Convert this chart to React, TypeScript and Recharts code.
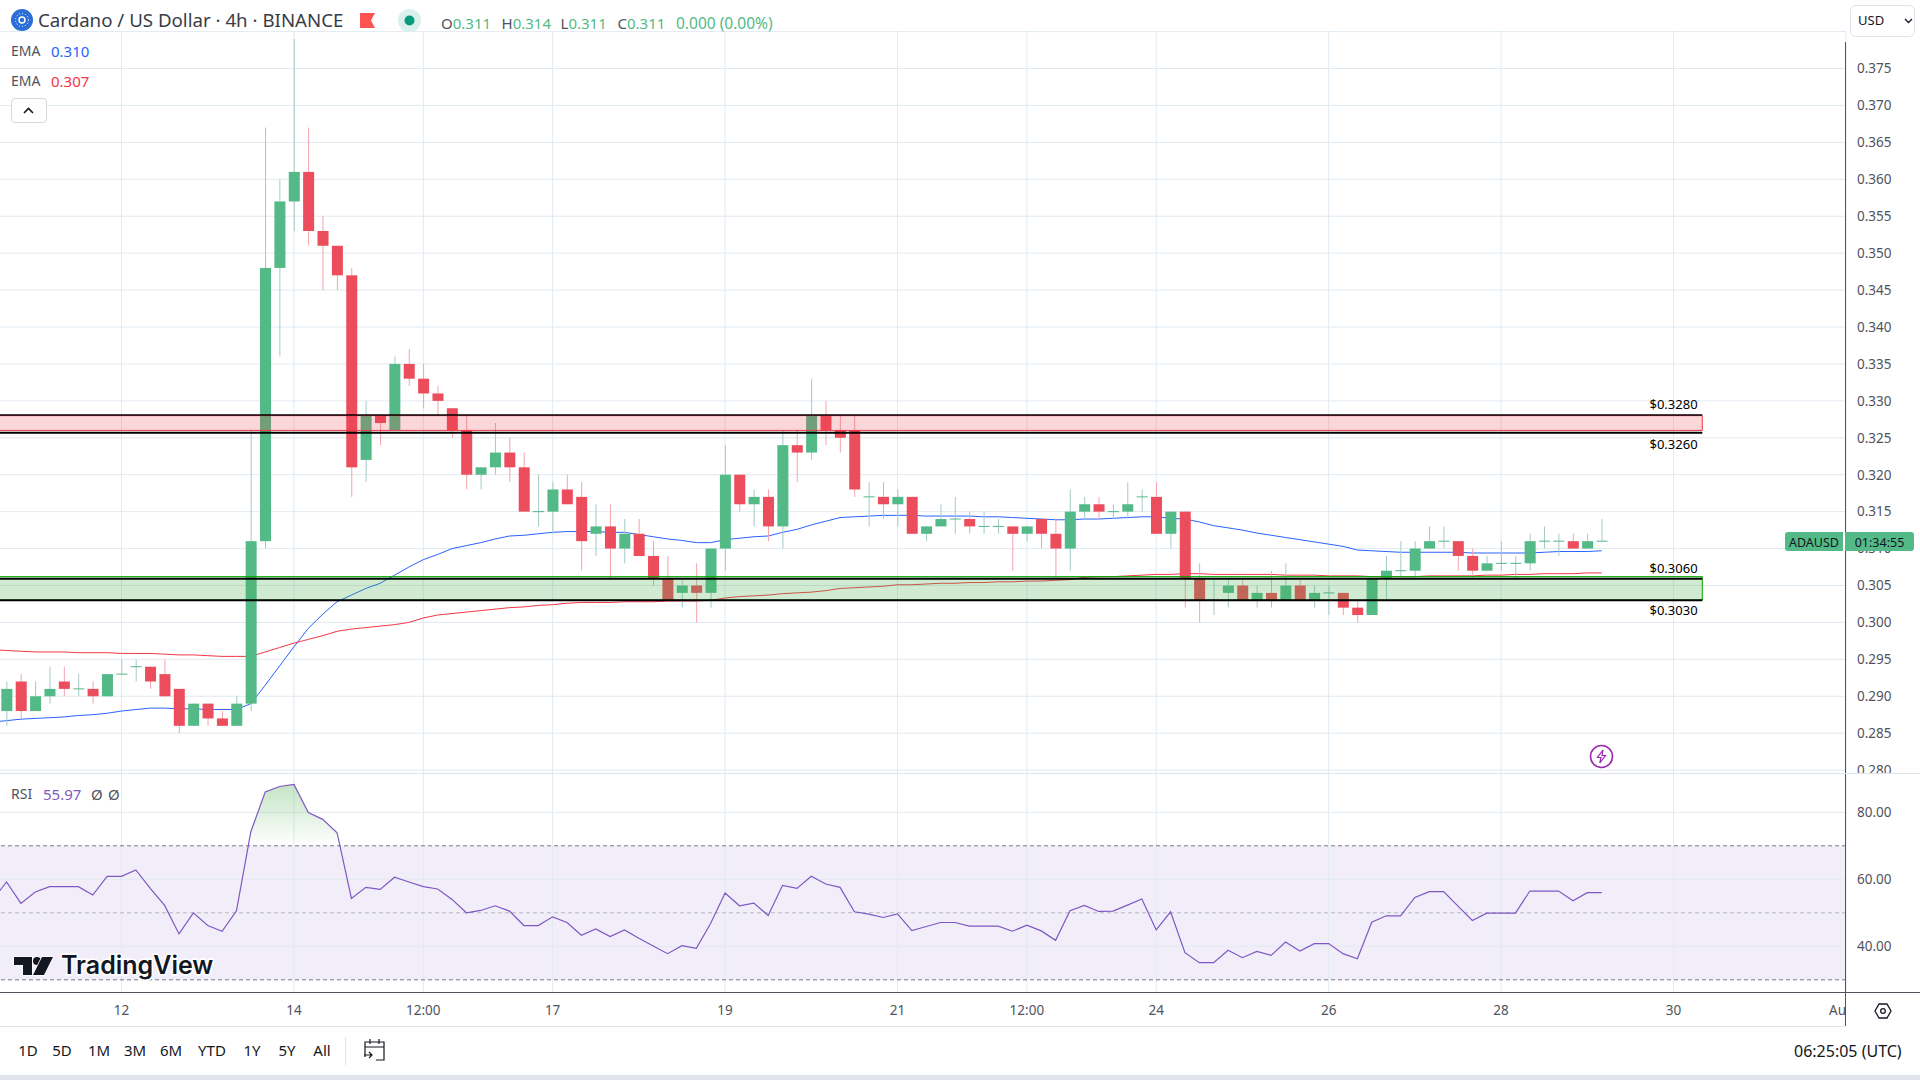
import React from "react";
import { ComposedChart, Bar, Line, Area, XAxis, YAxis, CartesianGrid, ReferenceArea, ReferenceLine, ReferenceDot } from "recharts";

const FONT = "'Noto Sans', sans-serif";
const UP = "#53b987";
const DOWN = "#eb4d5c";
const GRID = "#e0eaf2";
const TEXT = "#50535e";

// first bar sits just off the left edge, it only gives the lines somewhere to come from
const FIRST_BAR = -9;
const opens = [
  .289,
  .288,.292,.288,.290,.292,.291,.291,.290,.293,.294,.294,.293,.291,.286,.289,.287,.286,.289,.311,.348,.357,.361,.353,.351,
  .347,.322,.328,.326,.335,.333,.331,.329,.326,.320,.321,.323,.321,.315,.315,.318,.317,.312,.313,.310,.312,.309,.306,.304,
  .305,.304,.310,.320,.316,.317,.313,.324,.323,.328,.326,.326,.317,.317,.316,.317,.312,.313,.314,.314,.313,.313,.313,.312,
  .314,.312,.310,.315,.316,.315,.315,.317,.317,.312,.315,.306,.303,.304,.305,.303,.304,.303,.305,.303,.304,.304,.302,.301,
  .306,.307,.307,.310,.311,.311,.309,.307,.308,.308,.308,.311,.311,.311,.310,.311,
];
const highs = [
  .291,
  .292,.293,.292,.294,.294,.293,.292,.293,.295,.295,.294,.295,.291,.289,.289,.288,.290,.326,.367,.360,.379,.367,.355,.351,
  .348,.330,.328,.336,.337,.335,.332,.329,.328,.321,.327,.325,.323,.320,.319,.320,.319,.316,.316,.314,.314,.311,.309,.306,
  .308,.310,.324,.320,.318,.318,.326,.326,.333,.330,.328,.328,.319,.319,.318,.317,.313,.316,.317,.315,.315,.314,.313,.313,
  .314,.314,.318,.317,.317,.316,.319,.318,.319,.315,.315,.308,.306,.306,.306,.305,.307,.308,.306,.305,.305,.304,.303,.306,
  .309,.311,.311,.313,.313,.311,.310,.309,.311,.309,.312,.313,.312,.312,.312,.314,
];
const lows = [
  .288,
  .286,.287,.288,.289,.290,.290,.289,.290,.293,.292,.291,.290,.285,.286,.286,.286,.286,.288,.310,.336,.353,.351,.345,.345,
  .317,.319,.324,.326,.332,.329,.328,.325,.318,.318,.320,.319,.315,.313,.312,.316,.307,.309,.306,.308,.309,.305,.303,.302,
  .300,.302,.307,.315,.313,.311,.310,.319,.322,.324,.323,.317,.313,.314,.313,.312,.311,.313,.312,.312,.312,.312,.307,.311,
  .310,.306,.307,.314,.314,.314,.314,.315,.312,.310,.302,.300,.301,.302,.303,.302,.302,.303,.303,.302,.301,.301,.300,.301,
  .303,.306,.306,.310,.310,.307,.306,.307,.307,.306,.307,.310,.309,.310,.310,.311,
];
const closes = [
  .288,
  .291,.288,.290,.291,.291,.291,.290,.293,.293,.294,.292,.290,.286,.289,.287,.286,.289,.311,.348,.357,.361,.353,.351,.347,
  .321,.328,.327,.335,.333,.331,.330,.326,.320,.321,.323,.321,.315,.315,.318,.316,.311,.313,.310,.312,.309,.306,.303,.305,
  .304,.310,.320,.316,.317,.313,.324,.323,.328,.326,.325,.318,.317,.316,.317,.312,.313,.314,.314,.313,.313,.313,.312,.313,
  .312,.310,.315,.316,.315,.315,.316,.317,.312,.315,.306,.303,.303,.305,.303,.304,.303,.305,.303,.304,.304,.302,.301,.306,
  .307,.307,.310,.311,.311,.309,.307,.308,.308,.308,.311,.311,.311,.310,.311,.311,
];
const emaBlue = [
  .2865,
  .2867,.2869,.2870,.2871,.2872,.2874,.2875,.2877,.2880,.2882,.2884,.2884,.2883,.2883,.2882,.2882,.2882,.2890,.2915,.2941,.2967,.2992,.3011,.3028,
  .3037,.3046,.3053,.3064,.3075,.3085,.3092,.3100,.3104,.3108,.3113,.3117,.3118,.3120,.3122,.3123,.3123,.3123,.3122,.3122,.3119,.3116,.3113,.3111,
  .3108,.3108,.3112,.3114,.3116,.3117,.3122,.3126,.3132,.3137,.3142,.3143,.3144,.3145,.3145,.3145,.3144,.3144,.3144,.3144,.3143,.3143,.3142,.3141,
  .3140,.3139,.3139,.3140,.3140,.3141,.3142,.3143,.3143,.3141,.3140,.3136,.3131,.3128,.3125,.3121,.3118,.3115,.3112,.3109,.3106,.3103,.3098,.3097,
  .3096,.3095,.3095,.3095,.3095,.3095,.3094,.3094,.3094,.3094,.3094,.3095,.3096,.3096,.3096,.3097,
];
const emaRed = [
  .2963,
  .2962,.2961,.2960,.2960,.2960,.2959,.2959,.2959,.2958,.2958,.2958,.2957,.2956,.2956,.2955,.2954,.2954,.2954,.2960,.2966,.2972,.2977,.2982,.2988,
  .2991,.2993,.2995,.2997,.3000,.3006,.3010,.3012,.3014,.3016,.3018,.3020,.3021,.3023,.3024,.3026,.3027,.3027,.3027,.3028,.3028,.3028,.3029,.3029,
  .3029,.3030,.3033,.3035,.3036,.3037,.3039,.3040,.3041,.3043,.3046,.3047,.3048,.3049,.3051,.3051,.3052,.3053,.3053,.3054,.3054,.3055,.3055,.3056,
  .3056,.3057,.3058,.3061,.3062,.3062,.3063,.3064,.3065,.3065,.3066,.3066,.3065,.3065,.3065,.3065,.3065,.3064,.3064,.3064,.3063,.3063,.3063,.3062,
  .3062,.3062,.3062,.3063,.3063,.3063,.3063,.3064,.3064,.3065,.3065,.3066,.3066,.3066,.3067,.3067,
];
const rsi = [
  53.7,
  59.2,52.8,56.2,57.8,57.8,57.8,55.3,60.9,60.9,62.8,57.3,52.2,43.7,50.0,46.2,44.5,50.6,74.2,86.1,87.7,88.3,79.9,77.9,73.9,
  54.3,57.6,57.0,60.6,59.2,57.8,57.1,54.0,50.0,50.7,52.1,50.5,46.2,46.2,48.8,47.1,43.3,45.2,42.9,44.9,42.4,40.1,37.8,40.2,
  39.4,46.9,55.9,52.1,52.9,49.2,58.2,57.3,60.9,58.6,57.6,50.3,49.6,48.6,49.7,44.7,45.9,47.1,47.1,46.0,46.0,46.0,44.5,46.3,
  44.6,41.8,50.6,52.2,50.4,50.5,52.3,54.1,44.9,50.3,38.1,35.1,35.1,38.8,36.6,38.5,37.3,41.3,38.6,40.8,40.8,37.8,36.3,47.2,
  49.1,49.1,54.6,56.3,56.3,52.0,47.7,49.9,49.9,49.9,56.5,56.5,56.5,53.6,56.0,56.0,
];

const timeTicks = [0, 12, 21, 30, 42, 54, 63, 72, 84, 96, 108, 120];
const timeLabels = ["12", "14", "12:00", "17", "19", "21", "12:00", "24", "26", "28", "30", "Au"];
const priceTicks = [.28, .285, .29, .295, .3, .305, .31, .315, .32, .325, .33, .335, .34, .345, .35, .355, .36, .365, .37, .375, .38];
const rsiTicks = [40, 60, 80];
const rsiBand = [30, 70];
const resistance = [.326, .328];
const support = [.303, .306];
const ranges = ["1D", "5D", "1M", "3M", "6M", "YTD", "1Y", "5Y", "All"];
const rangeCentres = [28, 62, 99, 135, 171, 212, 252, 287, 322];

const X_DOMAIN: [number, number] = [-8.455, 120];
const BAND_START = -10;
const BAND_END = 110;

const rows = opens.map((open, n) => ({
  i: n + FIRST_BAR,
  open,
  high: highs[n],
  low: lows[n],
  close: closes[n],
  blue: emaBlue[n],
  red: emaRed[n],
  rsi: rsi[n],
  over: rsi[n] > rsiBand[1] ? [rsiBand[1], rsi[n]] : null,
}));

function Candle(props: any) {
  const { x, y, width, height, payload } = props;
  const up = payload.close >= payload.open;
  const perUnit = height / (payload.high - payload.low);
  const top = y + (payload.high - Math.max(payload.open, payload.close)) * perUnit;
  const bodyH = Math.abs(payload.open - payload.close) * perUnit;
  const cx = x + width / 2;
  return (
    <g>
      <line x1={cx} x2={cx} y1={y} y2={y + height} stroke={up ? "#a3cbc6" : "#f5a3ad"} strokeWidth={1} />
      {bodyH > 0 ? (
        <rect x={x} y={top} width={width} height={bodyH} fill={up ? UP : DOWN} />
      ) : (
        <line x1={x} x2={x + width} y1={top} y2={top} stroke={UP} strokeWidth={1} />
      )}
    </g>
  );
}

function TimeTick({ x, y, payload }: any) {
  const label = timeLabels[timeTicks.indexOf(payload.value)];
  return (
    <text x={x} y={y + 14.5} textAnchor={label === "Au" ? "end" : "middle"} fontSize={13.5} fontFamily={FONT} fill={TEXT}>
      {label}
    </text>
  );
}

const bandLabel = { fill: "#000", fontSize: 13, fontFamily: FONT };

function PriceChart() {
  return (
    <div style={{ position: "absolute", left: 0, top: 0 }}>
      <ComposedChart width={1920} height={773} data={rows} margin={{ top: 31.6, right: 0, bottom: 0, left: 0 }}>
        <CartesianGrid stroke={GRID} verticalValues={timeTicks} horizontalValues={priceTicks} />
        <XAxis dataKey="i" type="number" domain={X_DOMAIN} allowDataOverflow hide />
        <YAxis
          orientation="right"
          width={74}
          domain={[0.27961, 0.38]}
          allowDataOverflow
          ticks={priceTicks}
          interval={0}
          axisLine={false}
          tickLine={false}
          tick={{ fontSize: 13.5, fill: TEXT, fontFamily: FONT, textAnchor: "start" }}
          tickMargin={5}
          tickFormatter={(v: number) => (v === 0.38 ? "" : v.toFixed(3))}
        />
        <Line dataKey="blue" stroke="#2962ff" strokeWidth={1} dot={false} isAnimationActive={false} zIndex={200} />
        <Line dataKey="red" stroke="#f23645" strokeWidth={1} dot={false} isAnimationActive={false} zIndex={200} />
        <Bar dataKey={(r: any) => [r.low, r.high]} barSize={11} shape={<Candle />} isAnimationActive={false} zIndex={300} />
        <ReferenceArea x1={BAND_START} x2={BAND_END} y1={resistance[0]} y2={resistance[1]} ifOverflow="hidden" fill="#f23645" fillOpacity={0.2} stroke="#f23645" strokeWidth={1} zIndex={400} />
        <ReferenceArea x1={BAND_START} x2={BAND_END} y1={support[0]} y2={support[1] + 0.0002} ifOverflow="hidden" fill="#4caf50" fillOpacity={0.26} stroke="#00a800" strokeWidth={1} zIndex={400} />
        <ReferenceLine segment={[{ x: X_DOMAIN[0], y: 0.3281 }, { x: BAND_END, y: 0.3281 }]} stroke="#000" strokeWidth={1.5} zIndex={450} />
        <ReferenceLine segment={[{ x: X_DOMAIN[0], y: 0.32568 }, { x: BAND_END, y: 0.32568 }]} stroke="#000" strokeWidth={2} zIndex={450} />
        <ReferenceLine segment={[{ x: X_DOMAIN[0], y: 0.3059 }, { x: BAND_END, y: 0.3059 }]} stroke="#000" strokeWidth={2} zIndex={450} />
        <ReferenceLine segment={[{ x: X_DOMAIN[0], y: 0.303 }, { x: BAND_END, y: 0.303 }]} stroke="#000" strokeWidth={2} zIndex={450} />
        <ReferenceDot x={108} y={0.3281} r={0} label={{ ...bandLabel, value: "$0.3280", position: "top", offset: 6 }} zIndex={500} />
        <ReferenceDot x={108} y={0.32568} r={0} label={{ ...bandLabel, value: "$0.3260", position: "bottom", offset: 7 }} zIndex={500} />
        <ReferenceDot x={108} y={0.3062} r={0} label={{ ...bandLabel, value: "$0.3060", position: "top", offset: 4 }} zIndex={500} />
        <ReferenceDot x={108} y={0.303} r={0} label={{ ...bandLabel, value: "$0.3030", position: "bottom", offset: 6 }} zIndex={500} />
      </ComposedChart>
    </div>
  );
}

function RsiChart() {
  return (
    <div style={{ position: "absolute", left: 0, top: 773 }}>
      <ComposedChart width={1920} height={253} data={rows} margin={{ top: 0, right: 0, bottom: 0, left: 0 }}>
        <defs>
          <linearGradient id="rsiOver" x1="0" y1="0" x2="0" y2="1">
            <stop offset="0%" stopColor="#4caf50" stopOpacity={0.55} />
            <stop offset="100%" stopColor="#4caf50" stopOpacity={0} />
          </linearGradient>
        </defs>
        <ReferenceArea x1={X_DOMAIN[0]} x2={X_DOMAIN[1]} y1={rsiBand[0]} y2={rsiBand[1]} fill="#7e57c2" fillOpacity={0.1} zIndex={-150} />
        <CartesianGrid stroke={GRID} verticalValues={timeTicks} horizontalValues={rsiTicks} zIndex={-100} />
        <XAxis
          dataKey="i"
          type="number"
          domain={X_DOMAIN}
          allowDataOverflow
          ticks={timeTicks}
          interval={0}
          height={34}
          axisLine={false}
          tickLine={false}
          tick={<TimeTick />}
        />
        <YAxis
          orientation="right"
          width={74}
          domain={[26.36, 91.73]}
          allowDataOverflow
          ticks={rsiTicks}
          interval={0}
          axisLine={false}
          tickLine={false}
          tick={{ fontSize: 13.5, fill: TEXT, fontFamily: FONT, textAnchor: "start" }}
          tickMargin={5}
          tickFormatter={(v: number) => v.toFixed(2)}
        />
        <ReferenceLine y={rsiBand[1]} stroke="#787b86" strokeDasharray="4 3" zIndex={-50} />
        <ReferenceLine y={50} stroke="#b2b5be" strokeDasharray="4 3" zIndex={-50} />
        <ReferenceLine y={rsiBand[0]} stroke="#787b86" strokeDasharray="4 3" zIndex={-50} />
        <Area dataKey="over" stroke="none" fill="url(#rsiOver)" connectNulls={false} dot={false} activeDot={false} isAnimationActive={false} />
        <Line dataKey="rsi" stroke="#7e57c2" strokeWidth={1.2} dot={false} isAnimationActive={false} />
      </ComposedChart>
    </div>
  );
}

const abs = (left: number, top: number, extra: React.CSSProperties = {}): React.CSSProperties => ({
  position: "absolute",
  left,
  top,
  fontFamily: FONT,
  whiteSpace: "nowrap",
  lineHeight: 1,
  ...extra,
});

function Ohlc({ left, name, value }: { left: number; name: string; value: string }) {
  return (
    <div style={abs(left, 16, { fontSize: 15, color: UP })}>
      <span style={{ color: TEXT }}>{name}</span>
      {value}
    </div>
  );
}

function Chrome() {
  return (
    <>
      {/* header */}
      <svg style={abs(11, 9)} width={22} height={22}>
        <circle cx={11} cy={11} r={11} fill="#2b6fd6" />
        <circle cx={11} cy={11} r={3} fill="none" stroke="#fff" strokeWidth={1.4} />
        <circle cx={11} cy={11} r={6.5} fill="none" stroke="#fff" strokeWidth={1} strokeDasharray="1 2" />
      </svg>
      <div style={abs(38, 11, { fontSize: 18.7, color: "#3a3d46" })}>Cardano / US Dollar · 4h · BINANCE</div>
      <svg style={abs(360, 13)} width={16} height={15}>
        <path d="M0 0H15L11 7.5L15 15H0Z" fill="#ff5252" />
      </svg>
      <svg style={abs(398, 9)} width={23} height={23}>
        <circle cx={11.5} cy={11.5} r={11.5} fill="#d9f0ec" />
        <circle cx={11.5} cy={11.5} r={5} fill="#089981" />
      </svg>
      <Ohlc left={441} name="O" value="0.311" />
      <Ohlc left={501.5} name="H" value="0.314" />
      <Ohlc left={560.5} name="L" value="0.311" />
      <Ohlc left={617.5} name="C" value="0.311" />
      <div style={abs(676, 16, { fontSize: 15.5, color: UP })}>0.000 (0.00%)</div>
      <div style={abs(1850, 5, { width: 63, height: 30, border: "1px solid #e0e3eb", borderRadius: 6, background: "#fff" })} />
      <div style={abs(1858, 14, { fontSize: 13, color: "#131722" })}>USD</div>
      <svg style={abs(1904, 18)} width={9} height={6}>
        <path d="M1 1L4.5 4.5L8 1" fill="none" stroke="#131722" strokeWidth={1.3} />
      </svg>

      {/* indicator legends */}
      <div style={abs(11, 44, { fontSize: 14, color: TEXT })}>EMA</div>
      <div style={abs(51, 44, { fontSize: 15, color: "#2962ff" })}>0.310</div>
      <div style={abs(11, 74, { fontSize: 14, color: TEXT })}>EMA</div>
      <div style={abs(51, 74, { fontSize: 15, color: "#f23645" })}>0.307</div>
      <div style={abs(11, 98, { width: 34, height: 23, border: "1px solid #d6d8e0", borderRadius: 4, background: "#fff" })} />
      <svg style={abs(23, 107)} width={11} height={7}>
        <path d="M1 6L5.5 1.5L10 6" fill="none" stroke="#131722" strokeWidth={1.6} />
      </svg>
      <div style={abs(11, 787, { fontSize: 14, color: TEXT })}>RSI</div>
      <div style={abs(43, 787, { fontSize: 15, color: "#7e57c2" })}>55.97</div>
      <div style={abs(91, 787, { fontSize: 15, color: TEXT })}>Ø</div>
      <div style={abs(108, 787, { fontSize: 15, color: TEXT })}>Ø</div>

      {/* axis lines and separators */}
      <div style={abs(1845, 42, { width: 1, height: 984, background: TEXT })} />
      <div style={abs(0, 773, { width: 1920, height: 1, background: "#e0e3eb" })} />
      <div style={abs(0, 992, { width: 1920, height: 1, background: TEXT })} />
      <div style={abs(0, 1026, { width: 1845, height: 1, background: "#e0e3eb" })} />
      <div style={abs(0, 1075, { width: 1920, height: 5, background: "#e0e3eb" })} />

      {/* price tag */}
      <div style={abs(1785, 532, { width: 58, height: 19, background: UP, borderRadius: "3px 0 0 3px", color: "#131722", fontSize: 12.5, textAlign: "center", lineHeight: "21px" })}>ADAUSD</div>
      <div style={abs(1845, 532, { width: 69, height: 19, background: UP, borderRadius: "0 3px 3px 0", color: "#131722", fontSize: 12.5, textAlign: "center", lineHeight: "21px" })}>01:34:55</div>

      {/* alert icon */}
      <svg style={abs(1589, 744)} width={25} height={25}>
        <circle cx={12.5} cy={12.5} r={11} fill="#fff" stroke="#9c27b0" strokeWidth={1.6} />
        <path d="M14 6L8.5 13.5H12L10.8 19L16.5 11.5H13Z" fill="none" stroke="#9c27b0" strokeWidth={1.2} />
      </svg>

      {/* logo */}
      <svg style={abs(13, 956)} width={41} height={22}>
        <path d="M1 1H19V19H10V9H1Z" fill="#131722" stroke="#fff" strokeWidth={1.5} paintOrder="stroke" />
        <circle cx={24} cy={5} r={4} fill="#131722" />
        <path d="M29 1H40L31 19H20Z" fill="#131722" stroke="#fff" strokeWidth={1.5} paintOrder="stroke" />
      </svg>
      <div style={abs(61, 953, { fontFamily: "Inter, sans-serif", fontSize: 25, fontWeight: 600, color: "#131722", WebkitTextStroke: "3px #fff", paintOrder: "stroke fill" })}>TradingView</div>

      {/* settings hexagon */}
      <svg style={abs(1874, 1002)} width={18} height={18}>
        <path d="M5 2H13L17 9L13 16H5L1 9Z" fill="none" stroke="#131722" strokeWidth={1.3} />
        <circle cx={9} cy={9} r={2.3} fill="none" stroke="#131722" strokeWidth={1.3} />
      </svg>

      {/* bottom toolbar */}
      {ranges.map((r, n) => (
        <div key={r} style={abs(rangeCentres[n] - 20, 1043, { width: 40, textAlign: "center", fontSize: 15, color: "#131722" })}>{r}</div>
      ))}
      <div style={abs(345, 1037, { width: 1, height: 28, background: "#e0e3eb" })} />
      <svg style={abs(363, 1037)} width={24} height={25}>
        <path d="M2 20V5H21V23H13M2 10H21M7 2V7M16 2V7" fill="none" stroke="#131722" strokeWidth={1.2} />
        <path d="M1 18H9M6 15L9 18L6 21" fill="none" stroke="#131722" strokeWidth={1.2} />
      </svg>
      <div style={abs(1794, 1043, { fontSize: 16, color: "#131722" })}>06:25:05 (UTC)</div>
    </>
  );
}

export default function App() {
  return (
    <div style={{ position: "absolute", left: 0, top: 0, width: 1920, height: 1080, background: "#fff", overflow: "hidden" }}>
      <PriceChart />
      <RsiChart />
      <Chrome />
    </div>
  );
}
